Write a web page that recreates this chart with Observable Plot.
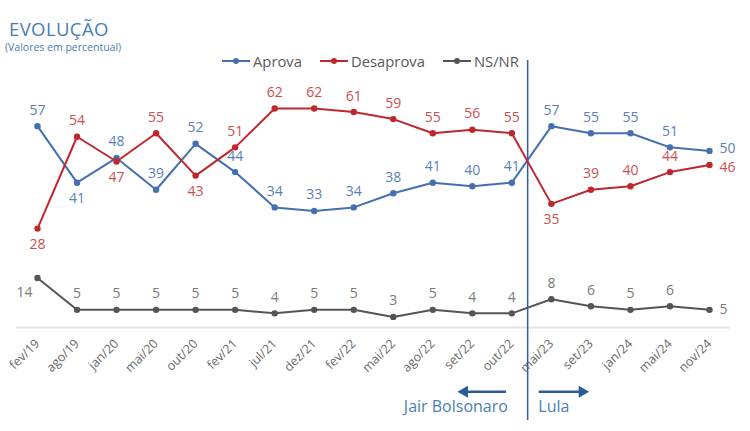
<!DOCTYPE html>
<html><head><meta charset="utf-8">
<script src="https://cdn.jsdelivr.net/npm/d3@7"></script>
<script src="https://cdn.jsdelivr.net/npm/@observablehq/plot@0.6"></script>
<style>
body{margin:0;background:#fff;font-family:"Open Sans",sans-serif;}
#wrap{position:relative;width:750px;height:431px;overflow:hidden;}
#title{position:absolute;left:9px;top:19px;font-size:18.5px;line-height:20px;color:#4a7db4;letter-spacing:0.4px;}
#sub{position:absolute;left:5px;top:41px;font-size:10.5px;line-height:12px;color:#4a7db4;}
#legend{position:absolute;left:222px;top:51px;font-size:14.8px;color:#5a5a5a;display:flex;gap:18px;align-items:center;}
#legend span{display:flex;align-items:center;gap:3px;}
#chart{position:absolute;left:0;top:0;}
</style></head>
<body><div id="wrap">
<div id="chart"></div>
<div id="title">EVOLUÇÃO</div>
<div id="sub">(Valores em percentual)</div>
<div id="legend"></div>
</div>
<script>
const categories = ["fev/19","ago/19","jan/20","mai/20","out/20","fev/21","jul/21","dez/21","fev/22","mai/22","ago/22","set/22","out/22","mai/23","set/23","jan/24","mai/24","nov/24"];
const aprova    = [57,41,48,39,52,44,34,33,34,38,41,40,41,57,55,55,51,50];
const desaprova = [28,54,47,55,43,51,62,62,61,59,55,56,55,35,39,40,44,46];
const nsnr      = [14,5,5,5,5,5,4,5,5,3,5,4,4,8,6,5,6,5];
const seriesNames = ["Aprova","Desaprova","NS/NR"];
const governments = ["Jair Bolsonaro","Lula"];

const lineColor = {"Aprova":"#4470b0","Desaprova":"#c0272d","NS/NR":"#555555"};
const labelColor = {"Aprova":"#5b80b8","Desaprova":"#c9504f","NS/NR":"#7a7a7a"};
const below = {"Aprova":["ago/19"],"Desaprova":["fev/19","jan/20","out/20","mai/23"],"NS/NR":[]};
const rightNudge = {"Aprova":-2,"Desaprova":2,"NS/NR":0};

const rows = [];
[aprova,desaprova,nsnr].forEach((vals,s)=>vals.forEach((v,i)=>rows.push({i,cat:categories[i],series:seriesNames[s],value:v})));

function place(d){
  const last = d.i === categories.length-1;
  if (last) return "r";
  if (d.series==="NS/NR" && d.i===0) return "l";
  return below[d.series].includes(d.cat) ? "b" : "a";
}
rows.forEach(d=>d.pos=place(d));

const divider = 12.4; // between out/22 and mai/23
const annY = -18.2, annTextY = -22.6;
const arrows = [
  {x1: divider-0.55, x2: divider-1.6, dir:-1},
  {x1: divider+0.28, x2: divider+1.38, dir:1}
];
const govLabels = [{name:governments[0], x: divider-0.5, anchor:"end"},{name:governments[1], x: divider+0.27, anchor:"start"}];

const font = "Open Sans";
const txt = (data, opts) => Plot.text(data, {x:"i", y:"value", text:d=>String(d.value), fill:d=>labelColor[d.series], fontSize:14, ...opts});
const chart = Plot.plot({
  width:750, height:431,
  marginLeft:37, marginRight:41, marginTop:108, marginBottom:104,
  x:{domain:[0,categories.length-1], axis:null},
  y:{domain:[0,62], axis:null},
  color:{type:"identity"},
  style:{fontFamily:font, background:"transparent"},
  marks:[
    Plot.ruleY([0],{x1:-0.53,x2:17.53,stroke:"#e3e3e3",strokeWidth:2}),
    Plot.axisX({ticks:d3.range(categories.length), tickFormat:i=>categories[i], tickRotate:-45, tickSize:0, tickPadding:14, fontSize:12.5, fill:"#6a6a6a", fontFamily:font}),
    Plot.ruleX([divider],{y1:-26.3,y2:75.6,stroke:"#2f5f9c",strokeWidth:1.5}),
    Plot.line(rows,{x:"i",y:"value",z:"series",stroke:d=>lineColor[d.series],strokeWidth:2}),
    Plot.dot(rows,{x:"i",y:"value",fill:d=>lineColor[d.series],r:3.2,stroke:null}),
    txt(rows.filter(d=>d.pos==="a"),{dy:-16}),
    txt(rows.filter(d=>d.pos==="b"),{dy:16}),
    ...seriesNames.map(n=>txt(rows.filter(d=>d.pos==="r" && d.series===n),{dx:10,dy:rightNudge[n],textAnchor:"start"})),
    txt(rows.filter(d=>d.pos==="l"),{dx:-13,dy:14}),
    Plot.link(arrows,{x1:"x1",x2:"x2",y1:()=>annY,y2:()=>annY,stroke:"#2a5a9a",strokeWidth:2.5}),
    Plot.dot(arrows,{x:"x2",y:()=>annY,symbol:"triangle",rotate:d=>d.dir*90,r:4.5,fill:"#2a5a9a",stroke:null}),
    ...govLabels.map(g=>Plot.text([g],{x:"x",y:()=>annTextY,text:"name",textAnchor:g.anchor,fill:"#4a7db4",fontSize:16}))
  ]
});
document.getElementById("chart").appendChild(chart);

const lg = document.getElementById("legend");
seriesNames.forEach(n=>{
  const s=document.createElement("span");
  s.innerHTML=`<svg width="28" height="10"><line x1="0" y1="5" x2="28" y2="5" stroke="${lineColor[n]}" stroke-width="2"/><circle cx="14" cy="5" r="3" fill="${lineColor[n]}"/></svg>${n}`;
  lg.appendChild(s);
});
</script></body></html>
